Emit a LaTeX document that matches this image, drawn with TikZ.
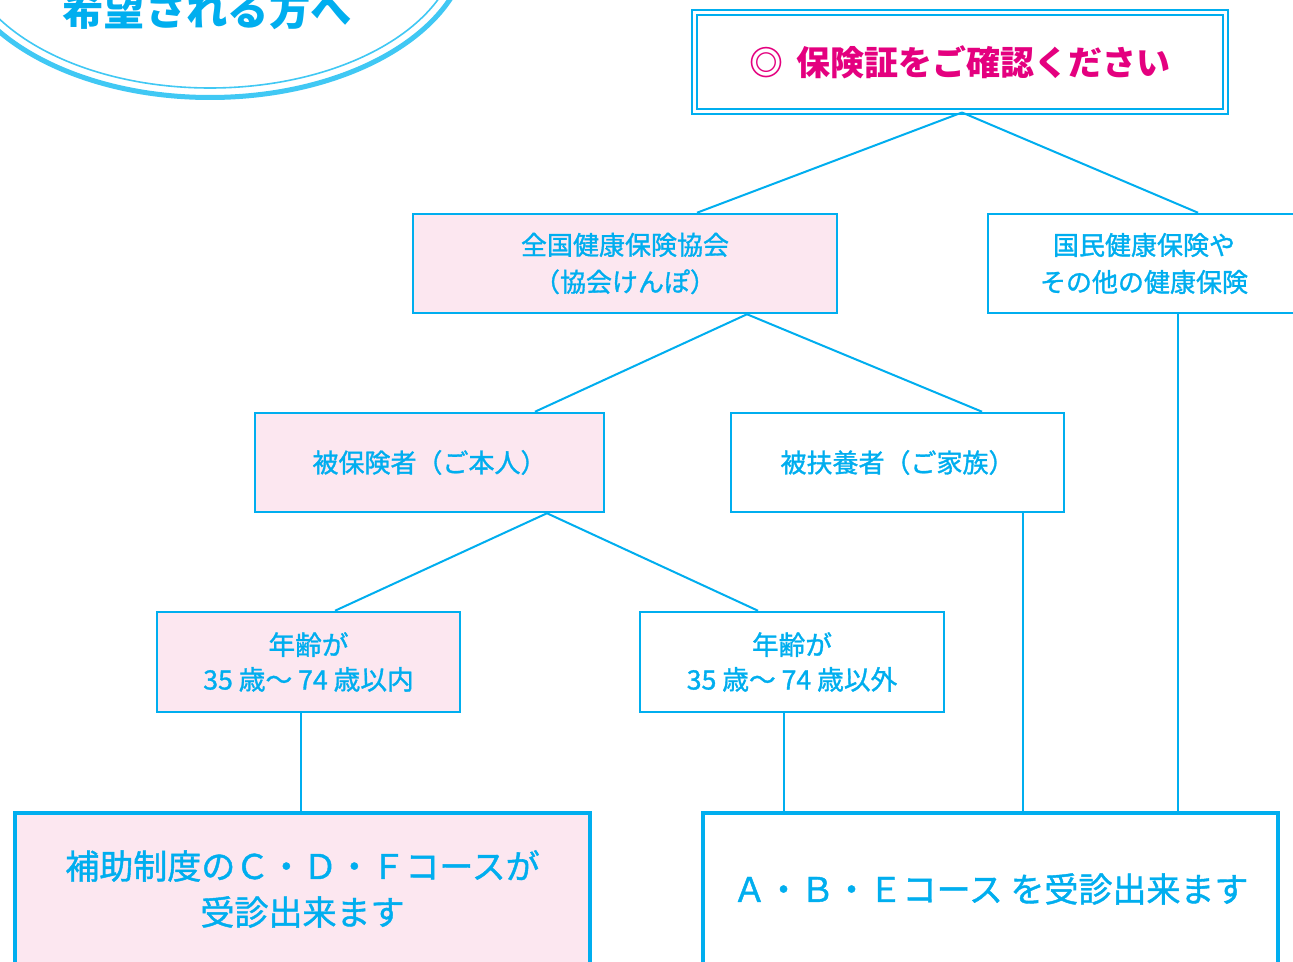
\documentclass[tikz,border=0pt]{standalone}
\usepackage{fontspec}
\setmainfont{Noto Sans CJK JP}
\newfontfamily\medfont[FakeBold=1.2]{Noto Sans CJK JP}
\usetikzlibrary{calc}
\definecolor{cy}{HTML}{00AEEF}
\definecolor{cyl}{HTML}{40C8F4}
\definecolor{pk}{HTML}{FCE7F0}
\definecolor{mg}{HTML}{E4007F}
\tikzset{
  box/.style={draw=cy, line width=1.9pt, rectangle, inner sep=0pt, text=cy, align=center,
              font=\medfont\fontsize{19.5}{27.75}\selectfont},
  pinkbox/.style={box, fill=pk},
  whitebox/.style={box, fill=white},
  bigbox/.style={box, line width=3pt, font=\medfont\fontsize{25.5}{34.5}\selectfont},
  agebox/.style={font=\medfont\fontsize{20}{26}\selectfont},
  conn/.style={draw=cy, line width=1.5pt},
}
\begin{document}
\begin{tikzpicture}[x=0.75pt, y=-0.75pt]
\clip (0,0) rectangle (1293,962);
\fill[white] (0,0) rectangle (1293,962);

% title ellipse (cut off)
\draw[cyl, line width=3.75pt] (210,-60) ellipse [x radius=259, y radius=157.5];
\draw[cyl, line width=1.2pt] (210,-60) ellipse [x radius=249, y radius=148];
\node[text=cy, font=\fontsize{31}{31}\selectfont\bfseries, inner sep=0pt] (ttl) at (207,10) {希望される方へ};

% nodes
\node[box, fill=white, double=white, line width=1.5pt, double distance=2.6pt,
      minimum width=398.25pt, minimum height=74.25pt,
      text=mg, font=\fontsize{25.5}{30}\selectfont\bfseries] (top) at (960,62)
      {◎\hspace{0.4em}保険証をご確認ください};

\node[pinkbox, minimum width=318pt, minimum height=74.25pt] (kyokai) at (625,263.5)
      {全国健康保険協会\\（協会けんぽ）};
\node[whitebox, minimum width=234pt, minimum height=74.25pt] (kokumin) at (1144,263.5)
      {国民健康保険や\\その他の健康保険};

\node[pinkbox, minimum width=261.75pt, minimum height=74.25pt] (hihoken) at (429.5,462.5)
      {被保険者（ご本人）};
\node[whitebox, minimum width=249.75pt, minimum height=74.25pt] (hifuyo) at (897.5,462.5)
      {被扶養者（ご家族）};

\node[pinkbox, agebox, minimum width=227.25pt, minimum height=75pt] (age1) at (308.5,662)
      {年齢が\\35 歳〜 74 歳以内};
\node[whitebox, agebox, minimum width=228pt, minimum height=75pt] (age2) at (792,662)
      {年齢が\\35 歳〜 74 歳以外};

\node[bigbox, fill=pk, minimum width=431.25pt, minimum height=114pt] (resL) at (302.5,889)
      {補助制度のＣ・Ｄ・Ｆコースが\\受診出来ます};
\node[bigbox, fill=white, minimum width=431.25pt, minimum height=114pt] (resR) at (990.5,889)
      {Ａ・Ｂ・Ｅコース を受診出来ます};

% connectors
\draw[conn] ([xshift=1.5pt]top.south) -- ([xshift=54pt]kyokai.north);
\draw[conn] ([xshift=1.5pt]top.south) -- ([xshift=40.5pt]kokumin.north);
\draw[conn] ([xshift=91.5pt]kyokai.south) -- ([xshift=79.1pt]hihoken.north);
\draw[conn] ([xshift=91.5pt]kyokai.south) -- ([xshift=63.4pt]hifuyo.north);
\draw[conn] ([xshift=88.1pt]hihoken.south) -- ([xshift=19.9pt]age1.north);
\draw[conn] ([xshift=88.1pt]hihoken.south) -- ([xshift=-25.5pt]age2.north);
\draw[conn] ([xshift=-5.6pt]age1.south) -- ([xshift=-5.6pt]age1.south |- resL.north);
\draw[conn] ([xshift=-6pt]age2.south) -- ([xshift=-6pt]age2.south |- resR.north);
\draw[conn] ([xshift=94.1pt]hifuyo.south) -- ([xshift=94.1pt]hifuyo.south |- resR.north);
\draw[conn] ([xshift=25.5pt]kokumin.south) -- ([xshift=25.5pt]kokumin.south |- resR.north);
\end{tikzpicture}
\end{document}
